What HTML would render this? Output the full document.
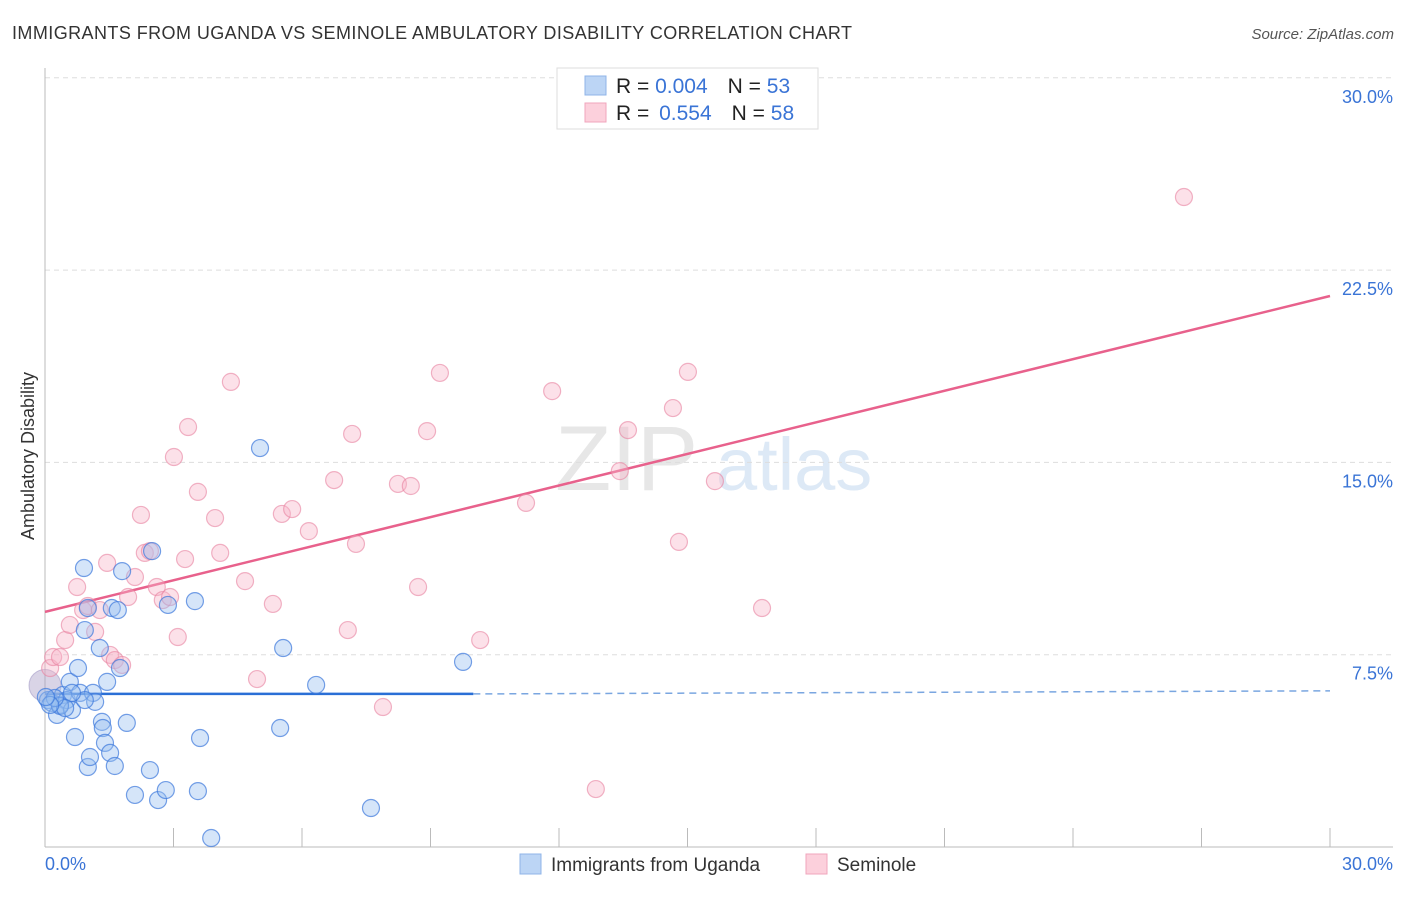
<!DOCTYPE html>
<html><head><meta charset="utf-8"><style>
body{margin:0;background:#fff;font-family:"Liberation Sans",sans-serif;}
svg text{font-family:"Liberation Sans",sans-serif;}
</style></head><body>
<svg id="chart" width="1406" height="892" viewBox="0 0 1406 892" xmlns="http://www.w3.org/2000/svg">
<text x="12" y="39" font-size="18" fill="#333" textLength="840" lengthAdjust="spacing">IMMIGRANTS FROM UGANDA VS SEMINOLE AMBULATORY DISABILITY CORRELATION CHART</text>
<text x="1394" y="39" font-size="15" font-style="italic" fill="#555" text-anchor="end">Source: ZipAtlas.com</text>
<g opacity="0.7">
<text x="555" y="490" font-size="92" font-family="Liberation Serif" fill="#ddd">ZIP</text>
<text x="716" y="490" font-size="74" fill="#cfe0f3">atlas</text>
</g>
<g id="grid"></g>
<g id="axes"></g>
<text transform="translate(34,456) rotate(-90)" font-size="18" fill="#333" text-anchor="middle">Ambulatory Disability</text>
<g id="lines"></g>
<g id="pts"></g>
<g>
<rect x="557" y="68" width="261" height="61" fill="#fff" stroke="#ddd"/>
<rect x="585" y="76" width="21" height="19" fill="#bcd5f5" stroke="#8fb4e8"/>
<rect x="585" y="103" width="21" height="19" fill="#fcd0dc" stroke="#f0a6bc"/>
<text x="616" y="93" font-size="21" fill="#222">R = <tspan fill="#3a74d6">0.004</tspan><tspan dx="20">N = </tspan><tspan fill="#3a74d6">53</tspan></text>
<text x="616" y="120" font-size="21" fill="#222">R = <tspan fill="#3a74d6" dx="4">0.554</tspan><tspan dx="20">N = </tspan><tspan fill="#3a74d6">58</tspan></text>
</g>
<g>
<rect x="520" y="854" width="21" height="20" fill="#bcd5f5" stroke="#8fb4e8"/>
<text x="551" y="871" font-size="19" fill="#333">Immigrants from Uganda</text>
<rect x="806" y="854" width="21" height="20" fill="#fcd0dc" stroke="#f0a6bc"/>
<text x="837" y="871" font-size="19" fill="#333">Seminole</text>
</g>
</svg>
<script>
const yTicks=[7.5,15,22.5,30];
const yTickLabels=["7.5%","15.0%","22.5%","30.0%"];
const xTickLabels=["0.0%","30.0%"];
const ugandaX=[0.07,0.16,0.28,0.35,0.42,0.51,0.58,0.63,0.70,0.77,0.82,0.91,0.93,1.00,1.05,1.00,1.12,1.17,1.28,1.33,1.35,1.40,1.45,1.52,1.56,1.63,1.70,1.75,1.80,1.91,2.10,2.45,2.50,2.64,2.82,2.87,3.50,3.62,3.57,3.88,5.02,5.49,5.56,6.33,7.61,9.76,0.35,0.47,0.23,0.12,0.93,0.63,0.02];
const ugandaY=[5.73,5.62,5.15,5.54,5.93,5.73,6.44,5.34,4.29,6.98,6.01,10.88,8.46,3.12,3.51,9.32,6.01,5.66,7.76,4.88,4.64,4.06,6.44,3.67,9.32,3.16,9.24,6.98,10.76,4.84,2.03,3.00,11.54,1.83,2.22,9.44,9.59,4.25,2.18,0.35,15.56,4.64,7.76,6.32,1.52,7.22,5.50,5.42,5.81,5.54,5.73,6.01,5.85];
const seminoleX=[0.12,0.19,0.35,0.47,0.58,0.75,0.89,1.00,1.17,1.28,1.45,1.52,1.63,1.80,1.94,2.10,2.24,2.33,2.45,2.61,2.75,2.92,3.01,3.10,3.27,3.34,3.57,3.97,4.09,4.34,4.67,4.95,5.32,5.53,5.77,6.16,6.75,7.07,7.17,7.26,7.89,8.24,8.54,8.71,8.92,9.22,10.16,11.23,11.84,12.86,13.42,13.61,14.66,14.80,15.01,15.64,16.74,26.59];
const seminoleY=[6.98,7.41,7.41,8.07,8.66,10.14,9.24,9.40,8.39,9.24,11.08,7.49,7.29,7.10,9.75,10.53,12.95,11.47,11.54,10.14,9.63,9.75,15.21,8.19,11.23,16.38,13.85,12.83,11.47,18.14,10.37,6.55,9.48,12.99,13.18,12.32,14.31,8.46,16.11,11.82,5.46,14.16,14.08,10.14,16.22,18.49,8.07,13.42,17.78,2.26,14.66,16.26,17.12,11.90,18.53,14.27,9.32,25.35];
const ugandaTrend=[5.97,5.97,6.09];
const seminoleTrend=[9.17,21.49];
const NS="http://www.w3.org/2000/svg";
const X=v=>45+v/30*1285, Y=v=>847-v/7.5*192.3;
function mk(tag,at,parent){const e=document.createElementNS(NS,tag);for(const k in at)e.setAttribute(k,at[k]);document.getElementById(parent).appendChild(e);return e;}
yTicks.forEach((t,i)=>{
 const g=mk('line',{x1:45,x2:1393,y1:Y(t),y2:Y(t),stroke:'#ddd','stroke-dasharray':'5,4'},'grid');
 
 
 const l=mk('text',{x:1393,y:Y(t)+25,'font-size':18,fill:'#3a74d6','text-anchor':'end'},'axes');
 l.textContent=yTickLabels[i];
 
 
});
mk('line',{x1:45,x2:45,y1:68,y2:847,stroke:'#bbb'},'axes');
mk('line',{x1:45,x2:1393,y1:847,y2:847,stroke:'#bbb'},'axes');
for(let i=1;i<=10;i++){const t=mk('line',{x1:X(i*3),x2:X(i*3),y1:828,y2:847,stroke:'#bbb'},'axes');
 
 }
const xl0=mk('text',{x:45,y:870,'font-size':18,fill:'#3a74d6'},'axes');xl0.textContent=xTickLabels[0];


const xl1=mk('text',{x:1393,y:870,'font-size':18,fill:'#3a74d6','text-anchor':'end'},'axes');xl1.textContent=xTickLabels[1];


const big=mk('circle',{cx:X(0),cy:Y(6.3),r:16,fill:'rgba(170,160,200,0.45)',stroke:'rgba(150,140,190,0.5)'},'pts');


seminoleX.forEach((v,i)=>{const c=mk('circle',{cx:X(v),cy:Y(seminoleY[i]),r:8.5,fill:'rgba(248,180,200,0.4)',stroke:'rgba(232,130,160,0.6)','stroke-width':1.2},'pts');
 
 });
ugandaX.forEach((v,i)=>{const c=mk('circle',{cx:X(v),cy:Y(ugandaY[i]),r:8.5,fill:'rgba(150,190,240,0.4)',stroke:'rgba(60,120,220,0.7)','stroke-width':1.2},'pts');
 
 });
const sl=mk('line',{x1:X(0),y1:Y(seminoleTrend[0]),x2:X(30),y2:Y(seminoleTrend[1]),stroke:'#e8618c','stroke-width':2.5},'lines');


const ul=mk('line',{x1:X(0),y1:Y(ugandaTrend[0]),x2:X(10),y2:Y(ugandaTrend[1]),stroke:'#2a6fd6','stroke-width':2.5},'lines');


const ud=mk('line',{x1:X(10),y1:Y(ugandaTrend[1]),x2:X(30),y2:Y(ugandaTrend[2]),stroke:'#7aa6e0','stroke-width':1.5,'stroke-dasharray':'7,5'},'lines');


</script>
</body></html>
